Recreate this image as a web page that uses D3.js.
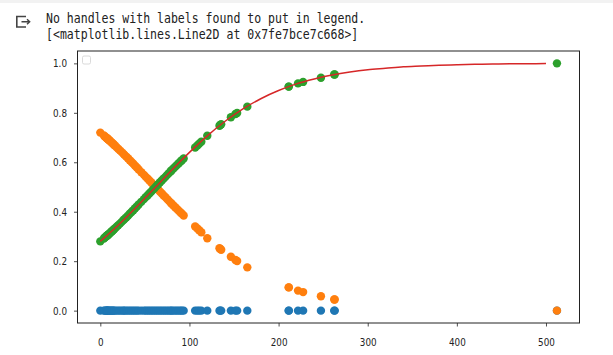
<!DOCTYPE html>
<html lang="en">
<head>
  <meta charset="UTF-8">
  <title>Logistic fit</title>
  <script src="https://d3js.org/d3.v7.min.js"></script>
  <style>
    body {
      margin: 0;
      padding: 0;
      background-color: white;
    }
    svg text {
      fill: #222;
    }
    .out-text {
      font-family: "DejaVu Sans Mono", monospace;
      font-size: 13.5px;
      fill: #212121;
    }
    .tick text {
      font-family: "DejaVu Sans", sans-serif;
      font-size: 11px;
    }
  </style>
</head>
<body>
  <div id="chart"></div>

  <script>
    // fare values (x) for every passenger point
    const fare = [0, 4, 5, 6.5, 7, 7.5, 8, 8.5, 9, 10, 11, 12, 13, 14, 15, 16, 18, 20, 22, 24,
      26, 27, 29, 31, 33, 35, 37, 39, 41, 43, 46, 49, 51, 53, 55, 57, 59, 61, 63, 65,
      67, 69, 71, 73, 75, 77, 79, 80, 82, 84, 86, 88, 90, 91.5, 93.5,
      106.4, 108.9, 110.9, 113.3, 120, 133.7, 134.5, 135.6, 146.5, 151.6, 153.5, 164.9,
      211.3, 211.5, 221.8, 227.5, 247.5, 262.4, 263, 512.3];

    // blue: predicted class
    const predicted = [0, 0, 0, 0, 0, 0, 0, 0, 0, 0, 0, 0, 0, 0, 0, 0, 0, 0, 0, 0,
      0, 0, 0, 0, 0, 0, 0, 0, 0, 0, 0, 0, 0, 0, 0, 0, 0, 0, 0, 0,
      0, 0, 0, 0, 0, 0, 0, 0, 0, 0, 0, 0, 0, 0, 0,
      0, 0, 0, 0, 0, 0, 0, 0, 0, 0, 0, 0,
      0, 0, 0, 0, 0, 0, 0, 0];

    // orange: probability of class 0
    const probNo = [0.720, 0.708, 0.704, 0.700, 0.698, 0.697, 0.695, 0.694, 0.692, 0.689,
      0.686, 0.682, 0.679, 0.676, 0.672, 0.669, 0.662, 0.655, 0.648, 0.641,
      0.634, 0.630, 0.623, 0.616, 0.608, 0.601, 0.594, 0.586, 0.579, 0.571,
      0.560, 0.549, 0.541, 0.534, 0.526, 0.519, 0.511, 0.504, 0.496, 0.489,
      0.481, 0.474, 0.466, 0.459, 0.451, 0.444, 0.436, 0.432, 0.425, 0.418,
      0.411, 0.404, 0.397, 0.392, 0.385,
      0.340, 0.332, 0.325, 0.317, 0.293, 0.252, 0.249, 0.246, 0.218, 0.205, 0.201, 0.175,
      0.094, 0.094, 0.081, 0.075, 0.058, 0.045, 0.045, 0.0];

    // green: probability of class 1
    const probYes = [0.280, 0.292, 0.296, 0.300, 0.302, 0.303, 0.305, 0.306, 0.308, 0.311,
      0.314, 0.318, 0.321, 0.324, 0.328, 0.331, 0.338, 0.345, 0.352, 0.359,
      0.366, 0.370, 0.377, 0.384, 0.392, 0.399, 0.406, 0.414, 0.421, 0.429,
      0.440, 0.451, 0.459, 0.466, 0.474, 0.481, 0.489, 0.496, 0.504, 0.511,
      0.519, 0.526, 0.534, 0.541, 0.549, 0.556, 0.564, 0.568, 0.575, 0.582,
      0.589, 0.596, 0.603, 0.608, 0.615,
      0.660, 0.668, 0.675, 0.683, 0.707, 0.748, 0.751, 0.754, 0.782, 0.795, 0.799, 0.825,
      0.906, 0.906, 0.919, 0.925, 0.942, 0.955, 0.955, 1.0];

    // red fitted curve
    const curveX = [0, 20, 40, 60, 80, 100, 120, 140, 160, 180, 200, 220, 240,
      260, 280, 300, 320, 340, 360, 380, 400, 420, 440, 460, 480, 500];
    const curveY = [0.280, 0.345, 0.417, 0.492, 0.568, 0.640, 0.707, 0.766, 0.816, 0.857,
      0.890, 0.917, 0.937, 0.953, 0.965, 0.974, 0.980, 0.986, 0.989, 0.992,
      0.994, 0.996, 0.997, 0.998, 0.998, 0.999];

    const xTicks = [0, 100, 200, 300, 400, 500];
    const yTicks = [0.0, 0.2, 0.4, 0.6, 0.8, 1.0];

    const outLines = [
      "No handles with labels found to put in legend.",
      "[<matplotlib.lines.Line2D at 0x7fe7bce7c668>]"
    ];

    const width = 613;
    const height = 355;
    const plot = { left: 77.5, right: 579.5, top: 51, bottom: 323 };

    const svg = d3.select("#chart")
      .append("svg")
      .attr("width", width)
      .attr("height", height);

    // notebook output header
    svg.append("rect")
      .attr("x", 0).attr("y", 0)
      .attr("width", width).attr("height", 3)
      .attr("fill", "#f2f2f2");

    svg.append("path")
      .attr("d", "M26,16.5 H16.8 V27 H26")
      .attr("fill", "none")
      .attr("stroke", "#444")
      .attr("stroke-width", 1.6);
    svg.append("path")
      .attr("d", "M21.5,21.8 H29.5 M27,19.3 L29.7,21.8 L27,24.3")
      .attr("fill", "none")
      .attr("stroke", "#444")
      .attr("stroke-width", 1.4);

    svg.selectAll("text.out-text")
      .data(outLines)
      .enter()
      .append("text")
      .attr("class", "out-text")
      .attr("x", 46)
      .attr("y", (d, i) => 22.5 + i * 16.7)
      .attr("textLength", d => d.length * 6.94)
      .attr("lengthAdjust", "spacingAndGlyphs")
      .text(d => d);

    const x = d3.scaleLinear().domain([-25.6, 537.6]).range([plot.left, plot.right]);
    const y = d3.scaleLinear().domain([-0.05, 1.05]).range([plot.bottom, plot.top]);

    const xAxis = svg.append("g")
      .attr("transform", `translate(0,${plot.bottom})`)
      .call(d3.axisBottom(x).tickValues(xTicks).tickFormat(d3.format("d")).tickSize(3.5).tickPadding(4));

    const yAxis = svg.append("g")
      .attr("transform", `translate(${plot.left},0)`)
      .call(d3.axisLeft(y).tickValues(yTicks).tickFormat(d3.format(".1f")).tickSize(3.5).tickPadding(4));

    [xAxis, yAxis].forEach(ax => {
      ax.select(".domain").remove();
      ax.selectAll(".tick line").attr("stroke", "#222").attr("stroke-width", 0.8);
      ax.selectAll(".tick text").attr("fill", "#222");
    });

    // narrow glyphs like the screenshot
    const sx = 0.8;
    xAxis.selectAll(".tick text")
      .attr("transform", `scale(${sx},1)`)
      .attr("y", 15);
    yAxis.selectAll(".tick text")
      .attr("transform", `scale(${sx},1)`)
      .attr("x", -10.5 / sx);

    const pts = fare.map((f, i) => ({ f, blue: predicted[i], orange: probNo[i], green: probYes[i] }));

    const series = [
      { key: "blue", color: "#1f77b4" },
      { key: "orange", color: "#ff7f0e" },
      { key: "green", color: "#2ca02c" }
    ];

    series.forEach(s => {
      svg.append("g")
        .selectAll("circle")
        .data(pts)
        .enter()
        .append("circle")
        .attr("cx", d => x(d.f))
        .attr("cy", d => y(d[s.key]))
        .attr("r", 4.2)
        .attr("fill", s.color);
    });

    const curve = curveX.map((cx, i) => [cx, curveY[i]]);
    svg.append("path")
      .datum(curve)
      .attr("fill", "none")
      .attr("stroke", "#d62728")
      .attr("stroke-width", 1.5)
      .attr("d", d3.line().x(d => x(d[0])).y(d => y(d[1])).curve(d3.curveMonotoneX));

    // empty legend frame
    svg.append("rect")
      .attr("x", plot.left + 5)
      .attr("y", plot.top + 5)
      .attr("width", 8)
      .attr("height", 8)
      .attr("rx", 1.5)
      .attr("fill", "white")
      .attr("stroke", "#d0d0d0")
      .attr("stroke-width", 0.8);

    // axes frame
    svg.append("rect")
      .attr("x", plot.left)
      .attr("y", plot.top)
      .attr("width", plot.right - plot.left)
      .attr("height", plot.bottom - plot.top)
      .attr("fill", "none")
      .attr("stroke", "#222")
      .attr("stroke-width", 1);
  </script>
</body>
</html>
